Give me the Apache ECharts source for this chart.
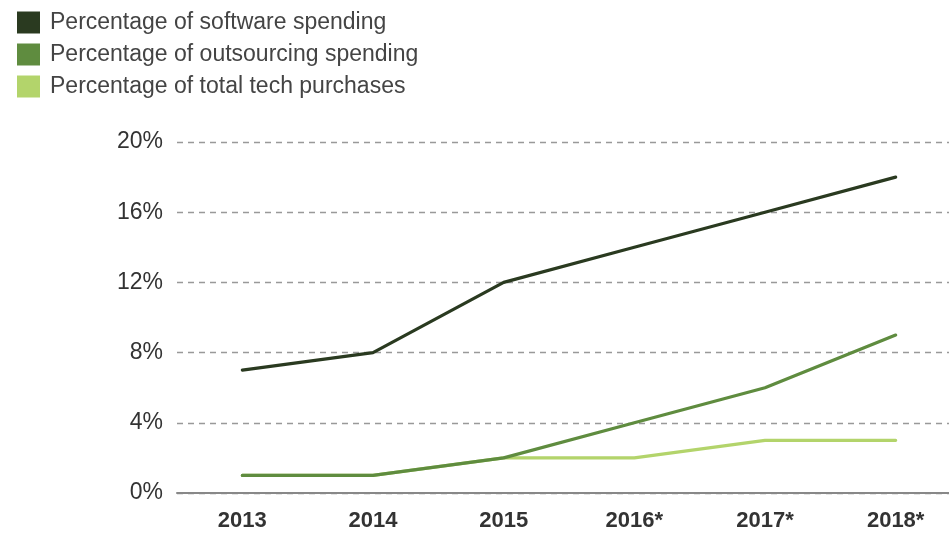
<!DOCTYPE html>
<html><head><meta charset="utf-8">
<script src="https://cdn.jsdelivr.net/npm/echarts@6/dist/echarts.min.js"></script>
<style>html,body{margin:0;padding:0;background:#fff}#c{width:949px;height:534px}</style>
</head><body><div id="c"></div>
<script>
const categories = ['2013','2014','2015','2016*','2017*','2018*'];
const softwareSpending = [7, 8, 12, 14, 16, 18];
const outsourcingSpending = [1, 1, 2, 4, 6, 9];
const totalTechPurchases = [1, 1, 2, 2, 3, 3];
const seriesNames = ['Percentage of software spending','Percentage of outsourcing spending','Percentage of total tech purchases'];
const colors = ['#2a3a20','#5f8c3f','#b3d46b'];

const chart = echarts.init(document.getElementById('c'));
const mk = (name, data, color, z) => ({
  name, type: 'line', data, z, symbol: 'none', smooth: false,
  lineStyle: { color, width: 3.2, cap: 'round', join: 'round' }, itemStyle: { color }
});
chart.setOption({
  animation: false,
  textStyle: { fontFamily: 'Liberation Sans, Arial, sans-serif' },
  legend: {
    orient: 'vertical', left: 12, top: 6, icon: 'rect', itemWidth: 23, itemHeight: 22, itemGap: 9,
    data: seriesNames,
    textStyle: { fontSize: 23, color: '#444', padding: [0, 0, 0, 5] },
    selectedMode: false
  },
  grid: { left: 177, top: 142, width: 784, bottom: 41, containLabel: false, outerBoundsMode: 'none' },
  xAxis: {
    type: 'category', data: categories, boundaryGap: true,
    axisLine: { lineStyle: { color: '#888', width: 2 } },
    axisTick: { show: false },
    axisLabel: { fontSize: 22, fontWeight: 'bold', color: '#333', margin: 17 }
  },
  yAxis: {
    type: 'value', min: 0, max: 20, interval: 4,
    axisLabel: { formatter: '{value}%', fontSize: 23, color: '#333', margin: 14, padding: [3, 0, 0, 0] },
    axisLine: { show: false }, axisTick: { show: false },
    splitLine: { lineStyle: { color: '#999', width: 1.3, type: [6, 5] } }
  },
  series: [
    mk(seriesNames[0], softwareSpending, colors[0], 4),
    mk(seriesNames[1], outsourcingSpending, colors[1], 3),
    mk(seriesNames[2], totalTechPurchases, colors[2], 2)
  ]
});
</script></body></html>
